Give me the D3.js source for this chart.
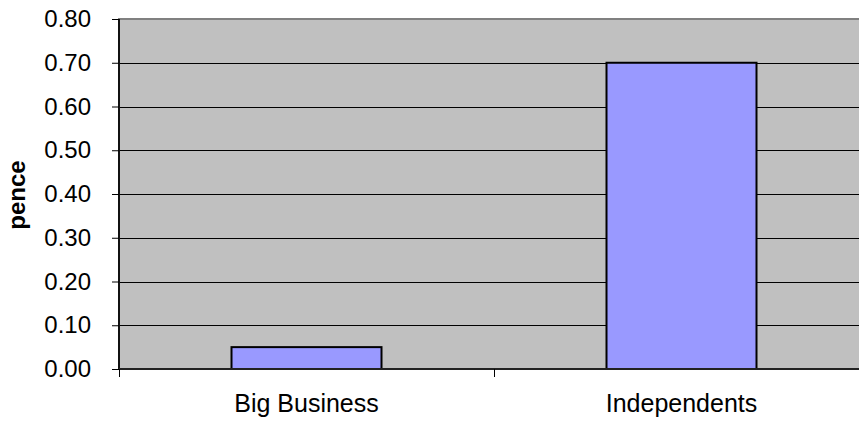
<!DOCTYPE html>
<html lang="en">
<head>
<meta charset="UTF-8" />
<title>pence chart</title>
<script src="https://d3js.org/d3.v7.min.js"></script>
<style>
  body { margin: 0; background: #fff; }
  svg { display: block; font-family: "Liberation Sans", Arial, sans-serif; }
  .grid line { stroke: #000; stroke-width: 1px; }
  rect.bar { fill: #9999ff; stroke: #000; stroke-width: 2px; }
</style>
</head>
<body>
<script>
// dati
const categories = ["Big Business", "Independents"];
const values = [0.05, 0.70];
const yTicks = [0, 0.1, 0.2, 0.3, 0.4, 0.5, 0.6, 0.7, 0.8];

const width = 859;
const height = 421;
const plot = { left: 119, right: 869, top: 19, bottom: 369 };

const svg = d3.select("body")
  .append("svg")
  .attr("width", width)
  .attr("height", height);

const x = d3.scaleBand()
  .domain(categories)
  .range([plot.left, plot.right])
  .paddingInner(0.6)
  .paddingOuter(0.3);

const y = d3.scaleLinear()
  .domain([0, 0.8])
  .range([plot.bottom, plot.top]);

// sfondo area grafico
svg.append("rect")
  .attr("x", plot.left)
  .attr("y", plot.top)
  .attr("width", plot.right - plot.left)
  .attr("height", plot.bottom - plot.top)
  .attr("fill", "#c0c0c0")
  .attr("stroke", "#808080")
  .attr("stroke-width", 2);

// griglia
svg.append("g")
  .attr("class", "grid")
  .selectAll("line")
  .data(yTicks.filter(t => t > 0 && t < 0.8))
  .enter()
  .append("line")
  .attr("x1", plot.left)
  .attr("x2", plot.right)
  .attr("y1", d => Math.round(y(d)) + 0.5)
  .attr("y2", d => Math.round(y(d)) + 0.5);

// barre
svg.selectAll("rect.bar")
  .data(values)
  .enter()
  .append("rect")
  .attr("class", "bar")
  .attr("x", (d, i) => x(categories[i]))
  .attr("y", d => y(d))
  .attr("width", x.bandwidth())
  .attr("height", d => y(0) - y(d));

// asse y
const yAxis = d3.axisLeft(y)
  .tickValues(yTicks)
  .tickSize(7)
  .tickPadding(21)
  .tickFormat(d3.format(".2f"));

const gy = svg.append("g")
  .attr("transform", `translate(${plot.left},0)`)
  .call(yAxis);
gy.select(".domain")
  .attr("stroke", "#111")
  .attr("stroke-width", 2)
  .attr("d", `M0,${plot.top}V${plot.bottom}`);
gy.selectAll(".tick line").attr("stroke", "#000");
gy.selectAll(".tick text")
  .style("font-size", "24px")
  .style("font-family", "Liberation Sans, Arial, sans-serif")
  .attr("fill", "#000");

// asse x: tacche ai bordi delle categorie
const step = x.step();
const boundaries = categories.map((c, i) => plot.left + i * step);
const gx = svg.append("g");
gx.append("line")
  .attr("x1", plot.left)
  .attr("x2", plot.right)
  .attr("y1", plot.bottom)
  .attr("y2", plot.bottom)
  .attr("stroke", "#222")
  .attr("stroke-width", 2);
gx.selectAll("line.tick")
  .data(boundaries)
  .enter()
  .append("line")
  .attr("class", "tick")
  .attr("x1", d => Math.round(d) + 0.5)
  .attr("x2", d => Math.round(d) + 0.5)
  .attr("y1", plot.bottom)
  .attr("y2", plot.bottom + 8)
  .attr("stroke", "#000");
gx.selectAll("text")
  .data(categories)
  .enter()
  .append("text")
  .attr("x", d => x(d) + x.bandwidth() / 2)
  .attr("y", 412)
  .attr("text-anchor", "middle")
  .style("font-size", "25px")
  .text(d => d);

// etichetta asse y
svg.append("text")
  .attr("transform", "translate(25,195) rotate(-90)")
  .attr("text-anchor", "middle")
  .style("font-size", "24px")
  .style("font-weight", "bold")
  .text("pence");
</script>
</body>
</html>
